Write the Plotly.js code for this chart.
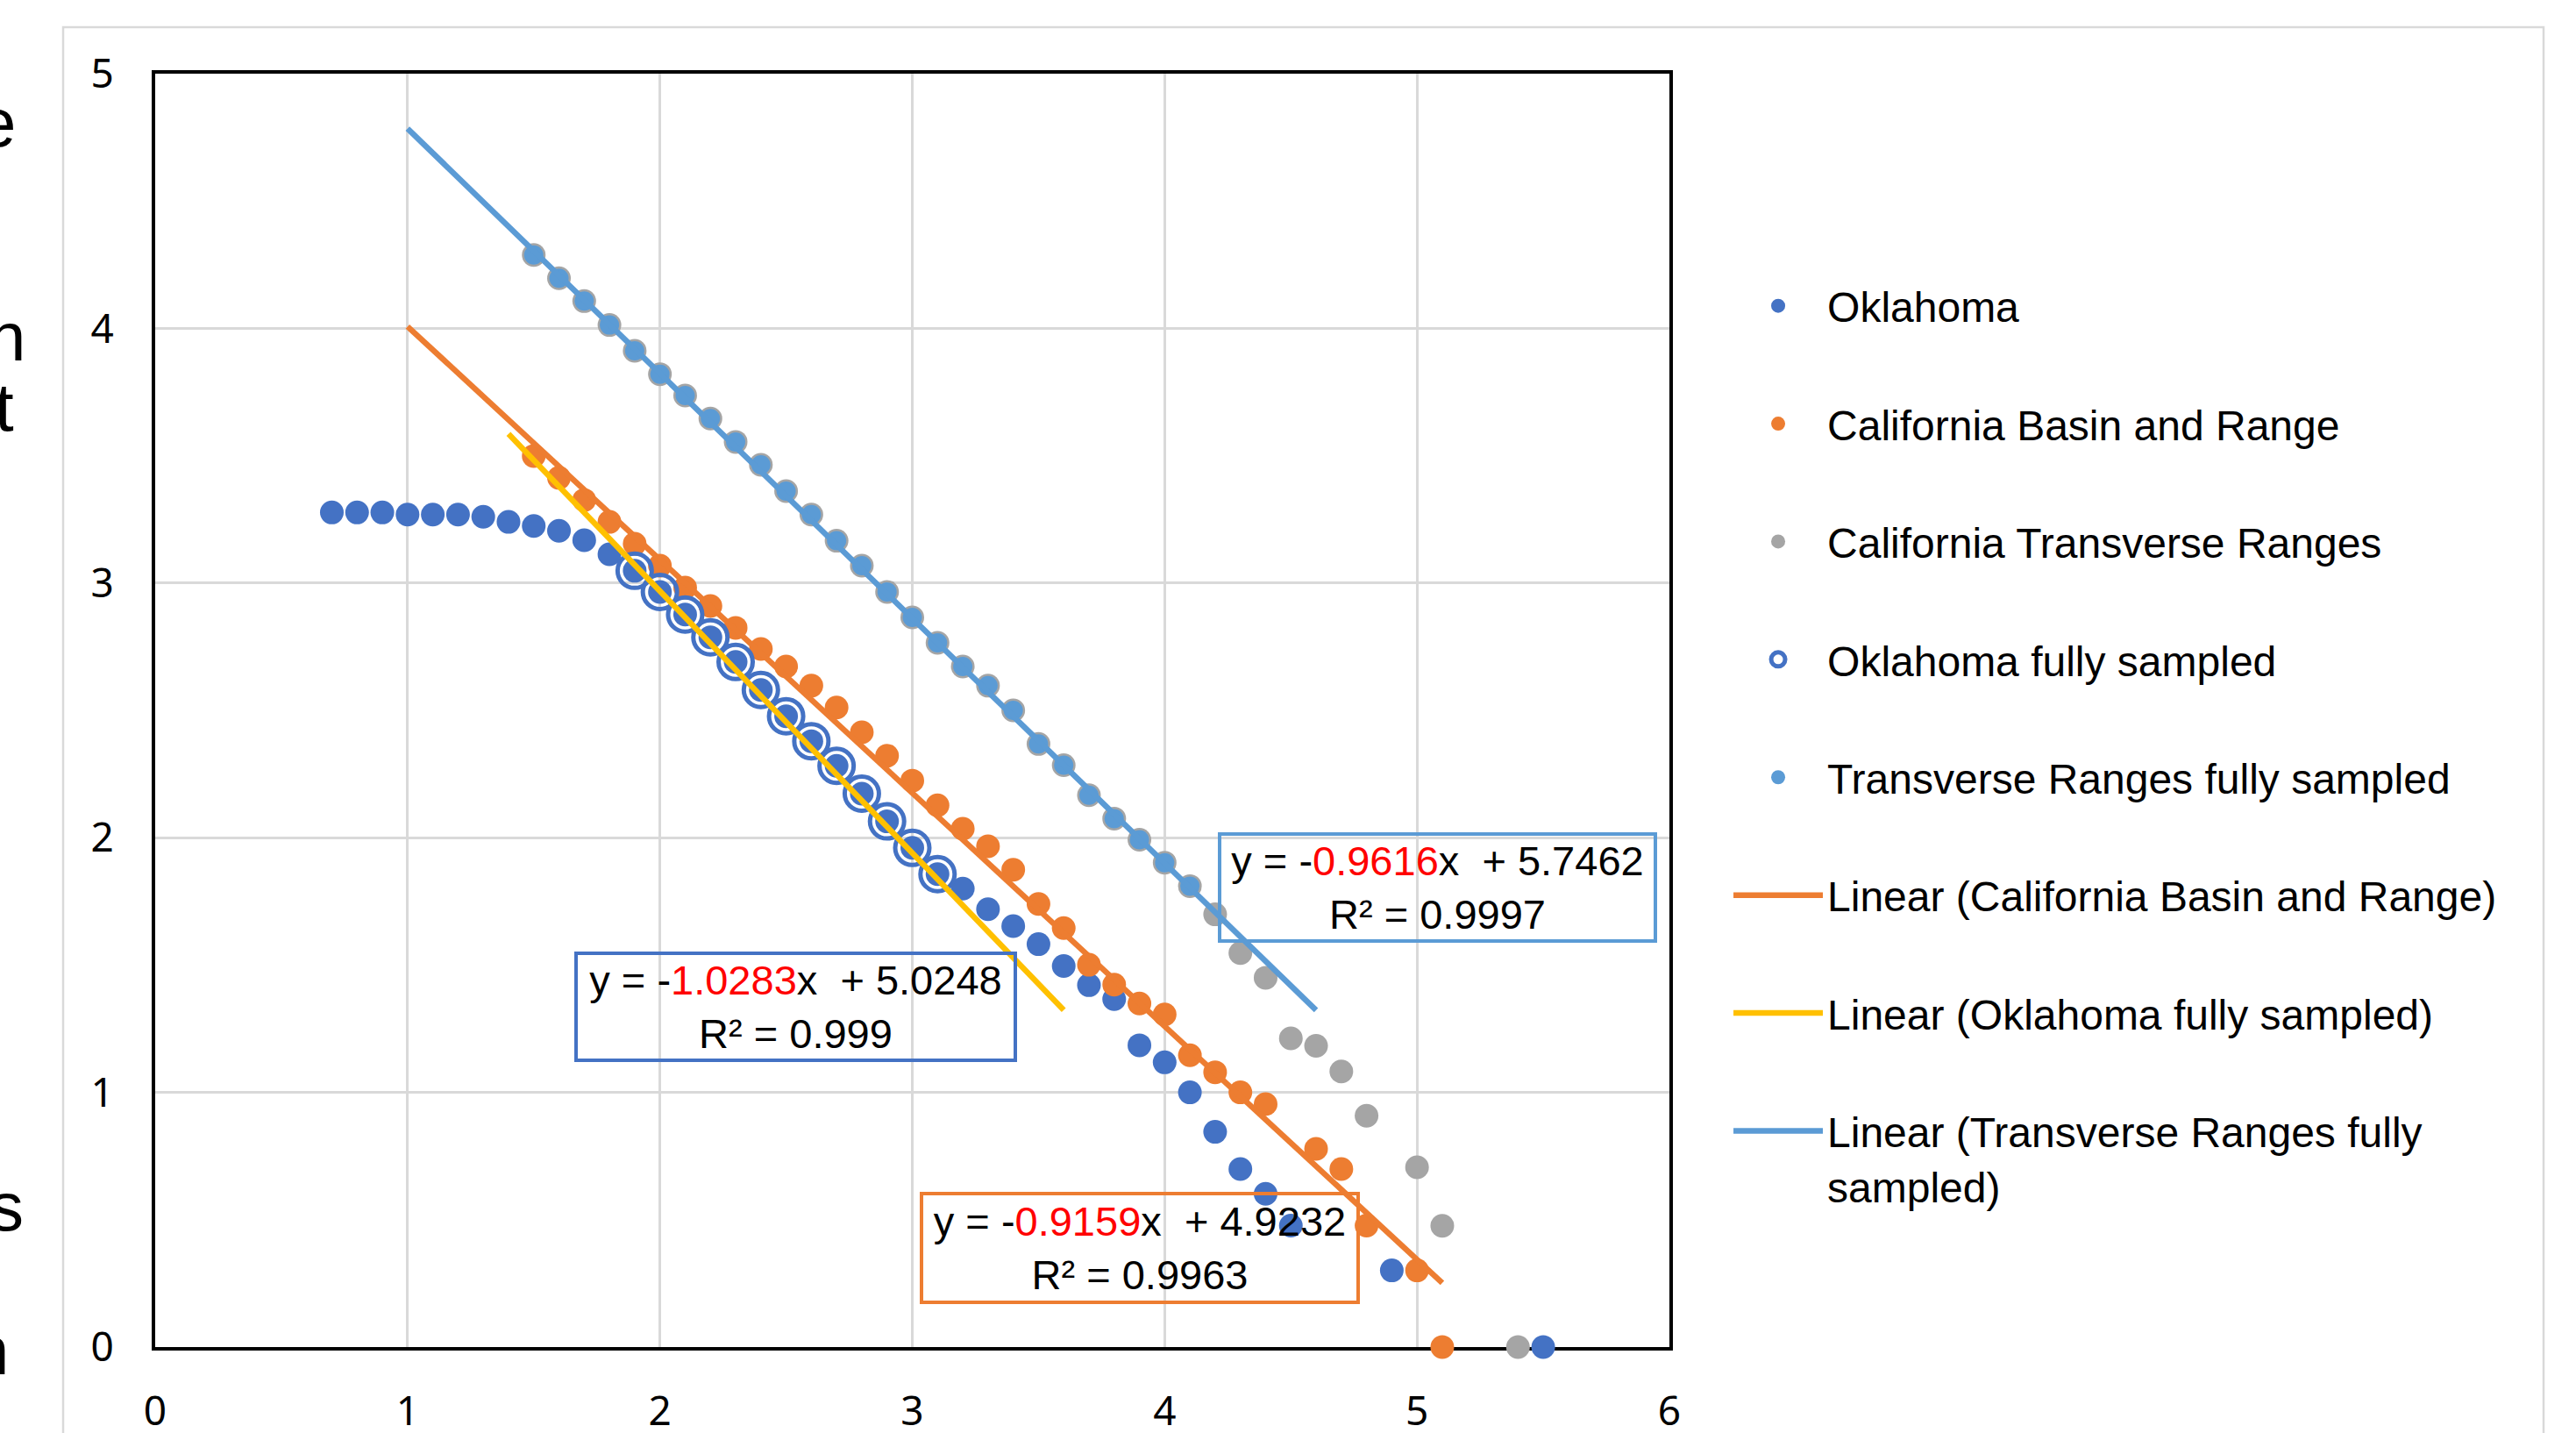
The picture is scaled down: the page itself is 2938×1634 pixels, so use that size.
<!DOCTYPE html>
<html>
<head>
<meta charset="utf-8">
<script src="https://cdn.plot.ly/plotly-3.0.1.min.js"></script>
<style>
  html, body { margin: 0; padding: 0; background: #ffffff; }
  #chart { width: 2938px; height: 1634px; }
</style>
</head>
<body>
<div id="chart"></div>
<script>
// ---------------- DATA ----------------
const oklahomaX = [0.7,0.8,0.9,1.0,1.1,1.2,1.3,1.4,1.5,1.6,1.7,1.8,1.9,2.0,2.1,2.2,2.3,2.4,2.5,2.6,2.7,2.8,2.9,3.0,3.1,3.2,3.3,3.4,3.5,3.6,3.7,3.8,3.9,4.0,4.1,4.2,4.3,4.4,4.5,4.9,5.5];
const oklahomaY = [3.277,3.277,3.277,3.269,3.269,3.269,3.260,3.240,3.224,3.205,3.168,3.113,3.048,2.965,2.876,2.787,2.690,2.580,2.477,2.379,2.282,2.173,2.064,1.960,1.857,1.800,1.719,1.653,1.582,1.496,1.421,1.366,1.185,1.118,1.000,0.845,0.699,0.602,0.477,0.301,0];

const basinX = [1.5,1.6,1.7,1.8,1.9,2.0,2.1,2.2,2.3,2.4,2.5,2.6,2.7,2.8,2.9,3.0,3.1,3.2,3.3,3.4,3.5,3.6,3.7,3.8,3.9,4.0,4.1,4.2,4.3,4.4,4.6,4.7,4.8,5.0,5.1];
const basinY = [3.499,3.413,3.326,3.240,3.154,3.068,2.982,2.910,2.824,2.741,2.672,2.597,2.511,2.414,2.322,2.224,2.127,2.035,1.966,1.874,1.740,1.645,1.501,1.423,1.349,1.306,1.146,1.079,1.000,0.954,0.778,0.699,0.477,0.301,0];

const transverseX = [1.5,1.6,1.7,1.8,1.9,2.0,2.1,2.2,2.3,2.4,2.5,2.6,2.7,2.8,2.9,3.0,3.1,3.2,3.3,3.4,3.5,3.6,3.7,3.8,3.9,4.0,4.1,4.2,4.3,4.4,4.5,4.6,4.7,4.8,5.0,5.1,5.4];
const transverseY = [4.288,4.197,4.107,4.013,3.912,3.820,3.736,3.646,3.554,3.464,3.361,3.269,3.166,3.068,2.965,2.865,2.765,2.672,2.597,2.500,2.368,2.285,2.167,2.075,1.992,1.902,1.810,1.699,1.547,1.450,1.212,1.183,1.082,0.908,0.706,0.476,0];

const oklahomaFullX = [1.9,2.0,2.1,2.2,2.3,2.4,2.5,2.6,2.7,2.8,2.9,3.0,3.1];
const oklahomaFullY = [3.048,2.965,2.876,2.787,2.690,2.580,2.477,2.379,2.282,2.173,2.064,1.960,1.857];

const transverseFullX = [1.5,1.6,1.7,1.8,1.9,2.0,2.1,2.2,2.3,2.4,2.5,2.6,2.7,2.8,2.9,3.0,3.1,3.2,3.3,3.4,3.5,3.6,3.7,3.8,3.9,4.0,4.1];
const transverseFullY = [4.288,4.197,4.107,4.013,3.912,3.820,3.736,3.646,3.554,3.464,3.361,3.269,3.166,3.068,2.965,2.865,2.765,2.672,2.597,2.500,2.368,2.285,2.167,2.075,1.992,1.902,1.810];

// Trendlines (as printed on the chart)
const fitNames = ["Linear (California Basin and Range)", "Linear (Oklahoma fully sampled)", "Linear (Transverse Ranges fully<br>sampled)"];
const fitSlopes = [-0.9159, -1.0283, -0.9616];
const fitIntercepts = [4.9232, 5.0248, 5.7462];
const fitR2 = ["0.9963", "0.999", "0.9997"];
const fitXStart = [1.0, 1.4, 1.0];
const fitXEnd = [5.1, 3.6, 4.6];

const seriesNames = ["Oklahoma", "California Basin and Range", "California Transverse Ranges", "Oklahoma fully sampled", "Transverse Ranges fully sampled"];

// ---------------- STYLE ----------------
const C = {
  okBlue: '#4472C4', orange: '#ED7D31', gray: '#A5A5A5', lightBlue: '#5B9BD5', yellow: '#FFC000',
  grid: '#D9D9D9'
};
const fitColors = [C.orange, C.yellow, C.lightBlue];
const boxColors = [C.orange, C.okBlue, C.lightBlue];
const TXT = 'Liberation Sans, Arial, sans-serif';
const TICK = 'Noto Sans, Liberation Sans, sans-serif';

// ---------------- TRACES ----------------
const traces = [];
function markerTrace(name, x, y, marker, grp) {
  return { type: 'scatter', mode: 'markers', name: name, x: x, y: y, marker: marker,
           cliponaxis: false, hoverinfo: 'skip', legendgroup: grp };
}
traces.push(markerTrace(seriesNames[0], oklahomaX, oklahomaY, {color: C.okBlue, size: 27}, 'g1'));
traces.push(markerTrace(seriesNames[1], basinX, basinY, {color: C.orange, size: 27}, 'g2'));
traces.push(markerTrace(seriesNames[2], transverseX, transverseY, {color: C.gray, size: 27}, 'g3'));
traces.push(markerTrace(seriesNames[3], oklahomaFullX, oklahomaFullY,
  {symbol: 'circle-open', color: C.okBlue, size: 39, line: {color: C.okBlue, width: 5}}, 'g4'));
traces.push(markerTrace(seriesNames[4], transverseFullX, transverseFullY, {color: C.lightBlue, size: 22}, 'g5'));

for (let i = 0; i < fitNames.length; i++) {
  const xs = [fitXStart[i], fitXEnd[i]];
  const ys = xs.map(v => fitSlopes[i] * v + fitIntercepts[i]);
  traces.push({ type: 'scatter', mode: 'lines', name: fitNames[i], x: xs, y: ys,
    line: {color: fitColors[i], width: 6.5}, hoverinfo: 'skip', legendgroup: 'f' + i });
}

// ---------------- ANNOTATIONS ----------------
const annotations = [];
const boxPos = [ {x: 3.903, y: 0.389}, {x: 2.537, y: 1.336}, {x: 5.080, y: 1.804} ];
const boxW = [494, 497, 493];
const boxH = [120, 118, 118];
for (let i = 0; i < fitNames.length; i++) {
  const s = fitSlopes[i];
  const txt = 'y = ' + (s < 0 ? '-' : '') + '<span style="color:#FF0000">' + Math.abs(s).toFixed(4) +
              '</span>x \u00A0+ ' + fitIntercepts[i].toFixed(4) + '<br>R\u00B2 = ' + fitR2[i];
  annotations.push({
    xref: 'x', yref: 'y', x: boxPos[i].x, y: boxPos[i].y, xanchor: 'center', yanchor: 'middle',
    text: txt, showarrow: false, align: 'center', valign: 'middle',
    width: boxW[i], height: boxH[i], borderwidth: 4, borderpad: 0, bordercolor: boxColors[i],
    font: {family: TXT, size: 47, color: '#000'}
  });
}

// clipped fragments of slide text at the left edge
const fragText = ['e', 'n', 't', 's', 'n'];
const fragRight = [20, 31, 18, 29, 12];
const fragTop = [94, 338, 418, 1330, 1494];
const L = 177, T = 84, PW = 1727, PH = 1452;
for (let i = 0; i < fragText.length; i++) {
  annotations.push({
    xref: 'paper', yref: 'paper', x: (fragRight[i] - L) / PW, y: 1 - (fragTop[i] - T) / PH,
    xanchor: 'right', yanchor: 'top', text: fragText[i], showarrow: false,
    font: {family: TXT, size: 78, color: '#000'}
  });
}

// ---------------- LAYOUT ----------------
const axisCommon = {
  dtick: 1, tick0: 0, showgrid: true, gridcolor: C.grid, gridwidth: 3, zeroline: false,
  showline: true, linecolor: '#000', linewidth: 4, mirror: true,
  ticks: 'outside', tickcolor: 'rgba(0,0,0,0)', tickwidth: 1,
  tickfont: {family: TICK, size: 46, color: '#000'}, layer: 'below traces', fixedrange: true
};

const layout = {
  width: 2938, height: 1634,
  margin: {l: 177, r: 1034, t: 84, b: 98, pad: 0, autoexpand: false},
  paper_bgcolor: '#ffffff', plot_bgcolor: '#ffffff',
  font: {family: TXT, color: '#000'},
  xaxis: Object.assign({}, axisCommon, {range: [0, 6], ticklen: 30}),
  yaxis: Object.assign({}, axisCommon, {range: [0, 5], ticklen: 34}),
  showlegend: true,
  legend: {
    x: 1.0394, y: 0.8437, xanchor: 'left', yanchor: 'top',
    font: {family: TXT, size: 48, color: '#000'},
    itemwidth: 102, tracegroupgap: 69, traceorder: 'grouped', valign: 'top',
    bgcolor: 'rgba(0,0,0,0)', borderwidth: 0
  },
  shapes: [{
    type: 'rect', xref: 'paper', yref: 'paper',
    x0: (72 - L) / PW, x1: (2901 - L) / PW, y0: 1 - (1700 - T) / PH, y1: 1 - (31 - T) / PH,
    line: {color: C.grid, width: 2.5}, fillcolor: 'rgba(0,0,0,0)', layer: 'below'
  }],
  annotations: annotations
};

Plotly.newPlot('chart', traces, layout, {displayModeBar: false, staticPlot: true});
</script>
</body>
</html>
